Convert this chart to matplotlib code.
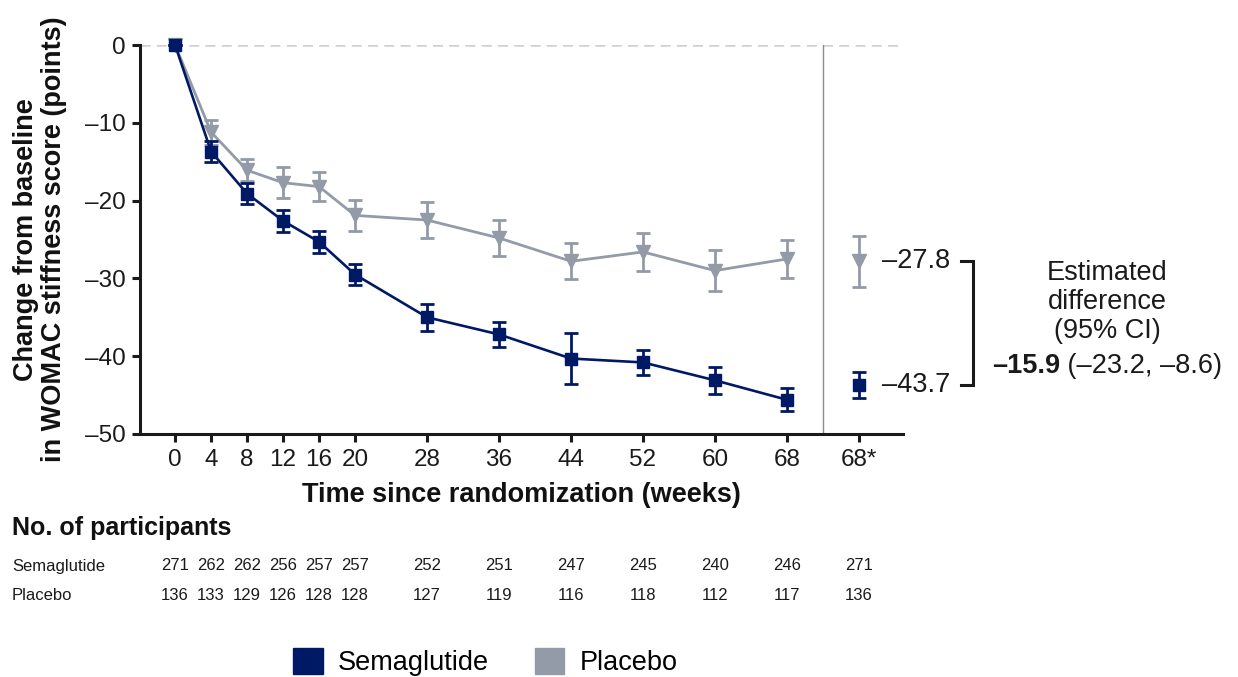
import matplotlib
matplotlib.use("Agg")
import matplotlib.pyplot as plt
import matplotlib.transforms as mtransforms
from matplotlib.patches import Patch

plt.rcParams['font.family'] = ['Liberation Sans', 'DejaVu Sans']

# ---------------- data ----------------
weeks = [0, 4, 8, 12, 16, 20, 28, 36, 44, 52, 60, 68]
sema_mean = [0, -13.7, -19.1, -22.6, -25.3, -29.5, -35.0, -37.2, -40.3, -40.8, -43.1, -45.6]
sema_err = [0, 1.3, 1.4, 1.4, 1.4, 1.3, 1.7, 1.6, 3.3, 1.6, 1.7, 1.5]
plac_mean = [0, -11.2, -16.1, -17.7, -18.2, -21.9, -22.5, -24.8, -27.8, -26.6, -29.0, -27.5]
plac_err = [0, 1.6, 1.4, 2.0, 1.9, 2.0, 2.3, 2.3, 2.3, 2.4, 2.6, 2.5]

est_week = 76          # position of the "68*" estimate column
sema_est, sema_est_err = -43.7, 1.7
plac_est, plac_est_err = -27.8, 3.3
diff_text_bold = "–15.9"
diff_text_ci = " (–23.2, –8.6)"

tick_weeks = [0, 4, 8, 12, 16, 20, 28, 36, 44, 52, 60, 68, 76]
tick_labels = ["0", "4", "8", "12", "16", "20", "28", "36", "44", "52", "60", "68", "68*"]
yticks = [0, -10, -20, -30, -40, -50]
ytick_labels = ["0", "–10", "–20", "–30", "–40", "–50"]

n_sema = [271, 262, 262, 256, 257, 257, 252, 251, 247, 245, 240, 246, 271]
n_plac = [136, 133, 129, 126, 128, 128, 127, 119, 116, 118, 112, 117, 136]

NAVY = "#001965"
GRAY = "#939AA8"
INK = "#1a1a1a"

W, H = 1238, 677
fig = plt.figure(figsize=(W / 100, H / 100), dpi=100)
ax = fig.add_axes([140 / W, 1 - 434 / H, (903 - 140) / W, (434 - 45) / H])

ax.set_xlim(-3.9, 80.9)
ax.set_ylim(-50, 0)

# zero reference and divider
ax.axhline(0, color="#CDD0D6", lw=1.8, ls=(0, (4, 2.5)), zorder=1)
ax.axvline(72, color="#8A8A8A", lw=1.0, zorder=1)

# placebo
ax.errorbar(weeks, plac_mean, yerr=plac_err, color=GRAY, lw=2.0, marker="v",
            markersize=10, elinewidth=2.0, capsize=5, capthick=2.0, zorder=3,
            clip_on=False)
# semaglutide
ax.errorbar(weeks, sema_mean, yerr=sema_err, color=NAVY, lw=1.9, marker="s",
            markersize=8.5, elinewidth=2.0, capsize=5, capthick=2.0, zorder=4,
            clip_on=False)

# estimates at 68*
ax.errorbar([est_week], [plac_est], yerr=[plac_est_err], color=GRAY, marker="v",
            markersize=10, elinewidth=2.0, capsize=5, capthick=2.0, ls="none", zorder=3)
ax.errorbar([est_week], [sema_est], yerr=[sema_est_err], color=NAVY, marker="s",
            markersize=8.5, elinewidth=2.0, capsize=5, capthick=2.0, ls="none", zorder=4)

# spines / ticks
for s in ["top", "right"]:
    ax.spines[s].set_visible(False)
for s in ["left", "bottom"]:
    ax.spines[s].set_linewidth(2.2)
    ax.spines[s].set_color(INK)
ax.set_yticks(yticks)
ax.set_yticklabels(ytick_labels)
ax.set_xticks(tick_weeks)
ax.set_xticklabels(tick_labels)
ax.tick_params(axis="both", direction="out", length=6, width=2.2, color=INK,
               labelsize=17.5, labelcolor=INK)
ax.tick_params(axis="y", pad=4)
ax.tick_params(axis="x", pad=5)

ax.set_xlabel("Time since randomization (weeks)", fontsize=19.5, fontweight="bold",
              labelpad=8, color="#111111")
ax.set_ylabel("Change from baseline\nin WOMAC stiffness score (points)", fontsize=19.5,
              fontweight="bold", labelpad=13, color="#111111", linespacing=1.12)

# value labels at 68*
ax.text(78.6, plac_est, "–27.8", fontsize=19.5, va="center", ha="left", color=INK,
        clip_on=False)
ax.text(78.6, sema_est, "–43.7", fontsize=19.5, va="center", ha="left", color=INK,
        clip_on=False)

# bracket
bx0, bx1 = 87.4, 88.7
ax.plot([bx0, bx1, bx1, bx0], [plac_est, plac_est, sema_est, sema_est], color=INK,
        lw=2.2, clip_on=False, solid_joinstyle="miter")

fig.text(1107 / W, 1 - 302 / H, "Estimated\ndifference\n(95% CI)", fontsize=19.5,
         ha="center", va="center", linespacing=1.17, color=INK)
tb = fig.text(992 / W, 1 - 366 / H, diff_text_bold, fontsize=19.5, fontweight="bold",
              ha="left", va="center", color=INK)
ax.annotate(diff_text_ci, xy=(1, 0), xycoords=tb, ha="left", va="bottom",
            fontsize=19.5, color=INK, annotation_clip=False)

# risk table
fig.text(12 / W, 1 - 528 / H, "No. of participants", fontsize=18, fontweight="bold",
         ha="left", va="center", color="#111111")
trans = mtransforms.blended_transform_factory(ax.transData, fig.transFigure)
rows = [("Semaglutide", n_sema, 566), ("Placebo", n_plac, 596)]
for name, vals, ypx in rows:
    fig.text(12 / W, 1 - ypx / H, name, fontsize=12, ha="left", va="center", color=INK)
    for wk, v in zip(tick_weeks, vals):
        ax.text(wk, 1 - ypx / H, str(v), transform=trans, fontsize=12, ha="center",
                va="center", color=INK, clip_on=False)

# legend
handles = [Patch(facecolor=NAVY, edgecolor=NAVY), Patch(facecolor=GRAY, edgecolor=GRAY)]
fig.legend(handles, ["Semaglutide", "Placebo"], loc="center",
           bbox_to_anchor=(485 / W, 1 - 662 / H), ncol=2, frameon=False,
           fontsize=19.5, handlelength=1.1, handleheight=1.1, handletextpad=0.55,
           columnspacing=1.7, borderpad=0.1)

fig.savefig("out.png", dpi=100)
